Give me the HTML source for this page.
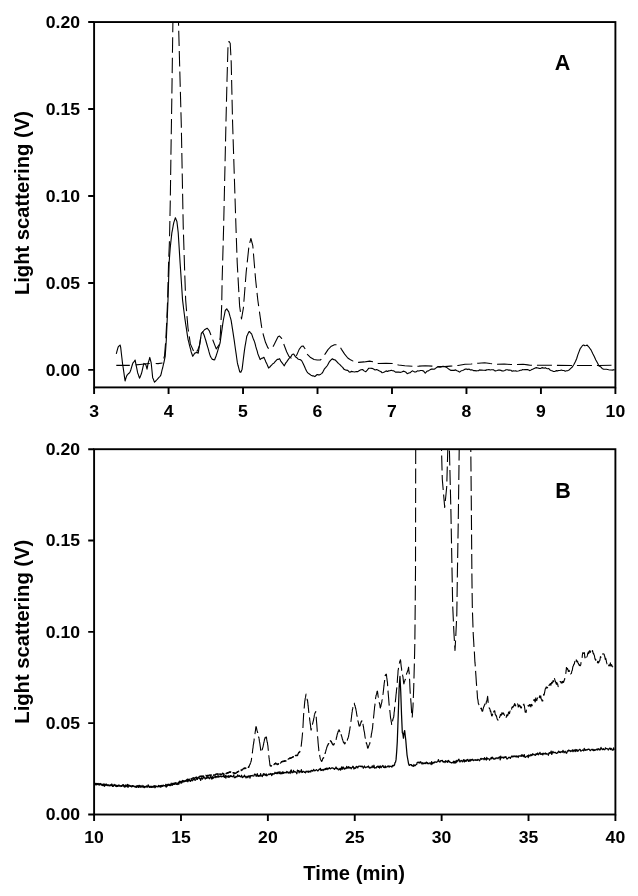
<!DOCTYPE html>
<html lang="en">
<head>
<meta charset="utf-8">
<title>Light scattering chromatograms</title>
<style>
html,body{margin:0;padding:0;background:#fff;}
body{width:638px;height:896px;overflow:hidden;}
svg{display:block;}
</style>
</head>
<body>
<svg width="638" height="896" viewBox="0 0 638 896">
<defs>
<clipPath id="ca"><rect x="94.1" y="22.05" width="521.3" height="365.34999999999997"/></clipPath>
<clipPath id="cb"><rect x="94.1" y="449.2" width="521.3" height="365.3"/></clipPath>
</defs>
<rect width="638" height="896" fill="#fff"/>
<g clip-path="url(#ca)" fill="none" stroke="#000" stroke-width="1.08" stroke-linejoin="round">
<path d="M116.30,353.86 116.93,351.47 117.55,349.08 118.18,347.03 118.81,346.12 119.44,345.72 120.06,345.01 120.69,347.37 121.32,353.02 121.94,358.22 122.57,363.85 123.20,367.90 123.82,372.15 124.45,376.55 125.08,380.98 125.71,378.75 126.33,376.91 126.96,375.24 127.59,374.77 128.21,373.96 128.84,373.24 129.47,372.90 130.09,371.81 130.78,370.02 131.47,367.54 132.16,365.28 132.85,363.07 133.61,362.12 134.36,361.33 135.11,359.97 135.74,363.30 136.36,366.46 136.99,369.47 137.62,372.69 138.24,374.33 138.87,376.21 139.50,378.16 140.13,376.93 140.75,375.35 141.38,373.83 142.01,371.30 142.63,368.57 143.26,365.82 143.89,363.41 144.51,363.78 145.14,363.97 145.77,364.55 146.39,366.72 147.02,369.09 147.65,365.88 148.28,362.53 149.03,360.37 149.78,357.43 150.47,360.08 151.16,362.76 151.91,369.98 152.66,377.67 153.29,378.91 153.92,380.69 154.55,382.20 155.17,381.48 155.80,381.00 156.43,380.09 157.05,379.66 157.68,378.98 158.31,378.22 158.93,377.41 159.56,376.85 160.19,376.15 160.82,375.16 161.44,372.75 162.07,369.94 162.70,367.75 163.32,364.91 163.95,362.27 164.57,359.37 165.20,356.29 165.75,348.14 166.30,340.08 167.20,319.76 168.00,299.98 168.60,280.83 169.20,261.81 169.70,254.78 170.20,248.13 170.77,242.68 171.33,237.61 171.90,232.55 172.53,229.45 173.17,225.72 173.80,222.57 174.60,220.12 175.40,217.79 176.15,219.61 176.90,221.48 177.55,226.84 178.20,232.56 178.83,242.56 179.47,252.86 180.10,262.93 180.71,271.85 181.32,281.19 181.93,290.54 182.54,299.87 183.13,304.69 183.71,309.45 184.30,313.99 184.89,318.56 185.52,322.84 186.14,326.89 186.77,331.07 187.40,335.34 188.03,339.28 188.65,341.70 189.28,344.26 189.91,346.80 190.53,348.99 191.16,351.92 191.94,354.06 192.73,356.30 193.41,355.32 194.09,354.18 194.76,353.24 195.39,352.83 196.02,352.84 196.65,352.29 197.43,352.68 198.21,353.15 199.00,348.42 199.78,343.81 200.56,338.57 201.35,333.45 201.97,332.74 202.60,331.93 203.23,333.37 203.86,334.51 204.48,336.24 205.11,338.30 205.74,340.26 206.36,342.51 206.99,344.75 207.62,346.95 208.32,349.18 209.03,351.90 209.73,354.32 210.44,356.41 211.07,357.46 211.69,358.31 212.32,359.36 212.91,359.56 213.50,359.60 214.08,359.96 214.67,359.71 215.26,357.99 215.85,356.81 216.43,354.95 217.02,353.11 217.65,351.12 218.28,348.67 218.90,346.72 219.53,344.75 220.16,342.50 220.78,338.03 221.41,333.42 222.04,329.09 222.66,324.60 223.29,320.51 223.92,317.26 224.55,314.25 225.17,310.89 225.96,309.66 226.74,308.78 227.42,309.91 228.10,310.89 228.78,311.91 229.37,314.07 229.95,316.19 230.54,318.08 231.13,320.38 231.76,324.38 232.38,328.29 233.01,332.37 233.64,336.57 234.26,340.63 234.89,345.24 235.52,349.76 236.14,353.89 236.77,358.53 237.40,362.94 237.99,365.27 238.57,367.33 239.16,369.61 239.75,371.96 240.30,372.11 240.85,372.27 241.47,370.75 242.10,369.17 242.69,364.43 243.28,359.55 243.86,354.94 244.45,350.31 245.04,346.42 245.63,343.18 246.21,339.78 246.80,336.19 247.39,335.00 247.98,333.69 248.57,332.36 249.15,331.49 249.74,331.85 250.33,332.67 250.92,333.35 251.50,333.65 252.13,335.37 252.76,337.37 253.39,338.98 254.01,340.43 254.64,342.13 255.27,344.34 255.89,346.91 256.52,349.06 257.15,350.92 257.77,353.45 258.36,355.10 258.95,356.50 259.54,357.92 260.13,359.59 260.87,358.85 261.61,358.27 262.35,358.23 263.13,357.68 263.92,357.22 264.51,358.80 265.09,359.92 265.68,361.51 266.27,362.86 267.05,364.36 267.84,366.21 268.62,368.07 269.40,367.23 270.19,366.67 270.97,365.68 271.76,365.00 272.80,363.74 273.85,363.25 274.89,361.81 276.07,360.55 277.24,359.31 278.42,359.35 279.59,358.71 280.77,361.11 281.94,362.70 283.12,364.29 284.29,365.85 285.47,363.39 286.65,361.85 288.21,359.64 289.78,357.50 290.96,356.73 292.13,354.53 293.70,354.05 294.87,355.87 296.05,357.27 297.23,358.05 298.40,359.27 299.58,359.46 300.75,359.85 301.93,361.13 303.10,363.54 304.28,365.97 305.45,368.74 306.63,371.20 307.81,372.89 309.37,373.96 310.94,375.18 312.25,375.86 313.55,375.91 314.86,376.60 316.03,375.48 317.21,374.46 318.39,374.88 319.56,374.87 320.74,374.17 321.91,373.33 323.09,371.60 324.26,369.16 325.83,367.38 327.40,365.49 328.97,362.46 330.53,360.40 332.41,358.75 333.82,359.67 335.24,359.98 336.80,361.53 338.37,363.42 339.94,364.62 341.50,366.36 342.68,367.36 343.86,369.13 345.03,369.64 346.21,370.15 347.77,370.42 349.34,372.00 350.00,372.26 351.57,371.35 353.13,371.70 354.70,372.02 356.27,371.51 357.84,371.61 359.40,370.43 360.97,369.74 362.54,369.46 364.11,370.87 365.67,371.76 367.24,370.07 368.81,368.20 370.38,368.26 371.94,368.35 373.51,369.02 375.08,369.97 376.65,369.50 378.21,370.27 379.52,371.05 380.83,371.51 382.13,372.72 383.44,372.49 384.74,371.85 386.05,370.88 387.36,371.44 388.66,370.87 389.97,370.69 391.27,370.19 392.58,370.72 393.89,370.86 395.45,372.14 397.02,372.18 398.59,372.04 400.16,372.34 401.72,372.04 403.29,371.17 404.60,371.44 405.90,372.17 407.21,373.77 408.78,372.95 410.34,372.61 411.52,371.45 412.70,370.87 414.26,371.90 415.83,372.03 417.40,370.89 418.97,370.97 420.53,370.51 422.10,370.52 423.67,371.14 425.24,373.24 426.80,371.28 428.37,370.90 429.94,369.86 431.50,369.12 432.81,369.12 434.12,369.29 435.42,368.42 436.99,367.26 438.56,366.64 440.00,367.14 441.57,366.62 443.13,366.28 444.70,366.56 446.27,367.10 447.84,368.39 449.40,369.55 450.97,370.40 452.54,370.32 454.11,370.38 455.67,369.90 456.98,370.80 458.29,371.20 459.59,372.16 461.16,370.83 462.73,370.45 464.03,369.85 465.34,369.07 466.65,368.94 467.82,369.60 469.00,368.96 470.17,369.87 471.35,369.68 472.52,370.02 473.70,370.63 474.87,370.47 476.05,370.85 477.23,370.76 478.40,370.78 479.58,369.87 480.75,370.08 481.93,370.15 483.10,370.28 484.28,370.24 485.45,370.38 486.63,369.89 487.81,369.77 488.98,369.52 490.16,369.99 491.33,369.70 492.51,369.80 493.68,369.92 494.86,370.87 496.03,370.83 497.21,370.55 498.39,370.08 499.56,369.96 500.87,370.38 502.17,370.91 503.48,370.97 504.79,370.58 506.09,369.72 507.40,369.74 508.57,370.14 509.75,370.11 510.92,370.20 512.10,371.31 513.28,370.77 514.45,370.94 515.63,370.70 516.80,371.20 517.98,371.02 519.15,370.77 520.33,370.19 521.50,370.22 522.68,369.61 523.86,369.75 525.03,369.46 526.21,369.65 527.47,369.66 528.74,370.00 530.00,370.65 531.57,369.64 533.13,369.05 534.70,368.21 536.27,367.65 537.84,367.95 539.40,368.40 540.58,368.44 541.76,367.84 542.93,367.66 544.11,368.20 545.28,367.67 546.46,368.56 547.63,368.80 548.81,368.51 549.98,369.89 551.16,370.53 552.34,370.86 553.51,371.55 554.82,371.47 556.12,370.64 557.43,370.87 558.74,370.49 560.04,370.45 561.35,370.05 562.65,370.44 563.96,370.56 565.27,371.24 566.57,370.82 567.88,370.62 569.18,369.95 570.75,368.34 572.32,367.03 573.89,364.52 575.45,361.52 576.63,358.72 577.81,354.92 578.98,351.85 580.16,348.72 581.33,347.20 582.51,345.44 583.68,344.96 584.86,345.75 586.03,345.55 587.21,345.14 588.39,346.51 589.56,347.96 591.13,350.11 592.70,353.53 594.26,356.57 595.83,359.92 597.40,362.85 598.97,366.06 600.53,366.71 602.10,368.42 603.67,369.21 605.24,369.27 606.41,369.28 607.59,369.49 608.76,369.82 609.94,370.02 611.11,369.98 612.29,370.13 613.46,369.68 614.64,369.87" stroke-width="1.12"/>
<path d="M116.30,365.40 130.00,365.40 140.00,364.50 149.00,363.50 158.00,363.60 162.50,363.00" stroke-dasharray="14 6" stroke-dashoffset="0.5"/>
<path d="M162.50,363.00 164.50,356.00 165.80,340.00 166.80,320.00 167.60,300.00 168.60,262.00 169.50,240.00 170.30,200.00 171.00,150.00 171.80,100.00 172.50,50.00 172.90,22.00 173.40,-30.00" stroke-dasharray="15.4 5" stroke-dashoffset="15.7"/>
<path d="M178.00,-30.00 178.50,22.00 179.50,60.00 181.30,125.00 183.20,225.00 184.70,272.00 185.67,300.00 186.93,315.67 188.03,328.21 188.50,331.35 190.38,343.89 193.51,350.94" stroke-dasharray="15.4 5" stroke-dashoffset="0.5"/>
<path d="M193.51,350.94 197.43,350.94 199.47,345.45 201.35,333.70 204.48,329.78 207.15,328.21 209.18,330.56 210.44,333.70 213.10,340.75 216.24,348.90 218.59,345.45 220.16,337.62 220.94,323.51 221.72,304.70 222.10,281.40 223.60,228.00 226.00,121.00 227.00,80.80 228.00,46.00 228.90,41.30" stroke-dasharray="14.9 4.95" stroke-dashoffset="16.9"/>
<path d="M228.90,41.30 230.20,43.20 231.20,62.00 232.60,123.00 236.00,228.00 237.20,262.60 239.60,305.90 241.50,319.00 243.40,307.80 246.20,272.00 249.00,245.70 250.90,238.50 252.80,245.70 255.60,279.50 257.80,300.00" stroke-dasharray="14.8 4.95" stroke-dashoffset="0.4"/>
<path d="M257.80,300.00 260.00,315.67 261.57,326.65 263.45,335.27 265.49,342.32 267.84,347.81 270.19,349.37 273.32,346.24 275.67,341.54 278.03,336.83 279.59,336.05 281.63,338.40 284.29,345.45 286.65,351.72 289.00,356.43 291.35,358.31 294.17,357.68 296.83,354.86 299.18,349.37 301.54,346.24 303.10,345.92 305.45,349.37 307.02,354.08 310.16,357.21 314.08,359.56 317.21,360.03 320.34,360.03 322.70,357.99 325.05,354.08 328.18,349.37 331.32,346.24 334.45,344.67 337.59,344.67 339.62,346.24 341.50,349.37 344.64,354.08 347.77,357.99 350.00,359.56" stroke-dasharray="16.5 5.5" stroke-dashoffset="10.3"/>
<path d="M350.00,359.56 353.13,361.13 358.62,362.38 364.11,361.91 369.59,361.13 373.51,361.91 378.21,363.48 386.05,363.17 392.32,363.48 398.59,365.05 404.86,365.83 412.70,366.30 418.97,366.14 425.24,365.83 432.29,366.14 437.77,366.61 440.00,366.61 444.70,366.61 450.19,366.14 458.03,365.52 465.08,364.26 471.35,363.95 478.40,363.17 484.67,362.70 490.16,363.48 497.21,364.26 504.26,363.95 510.53,364.58 516.80,364.58 523.07,364.26 527.77,364.89 530.00,365.20 540.19,365.20 551.16,365.20 557.43,365.36 571.54,365.52 583.29,365.52 598.97,365.52 611.50,365.20" stroke-dasharray="15 5" stroke-dashoffset="11.4"/>
</g>
<g clip-path="url(#cb)" fill="none" stroke="#000" stroke-width="1.1" stroke-linejoin="round">
<path d="M94.70,783.89 95.25,783.92 95.80,784.91 96.35,783.81 96.90,784.78 97.45,784.36 97.99,784.23 98.54,784.17 99.09,785.15 99.64,784.08 100.19,783.66 100.74,784.32 101.29,785.19 101.83,783.99 102.38,784.79 102.93,785.57 103.48,785.56 104.03,785.30 104.58,786.33 105.13,785.03 105.67,784.94 106.23,784.00 106.79,785.32 107.35,785.69 107.91,785.00 108.47,785.11 109.03,785.57 109.59,785.59 110.15,785.12 110.71,785.01 111.27,785.17 111.83,783.97 112.39,785.18 112.95,786.13 113.51,786.23 114.07,784.31 114.63,785.46 115.19,785.44 115.75,785.19 116.31,786.15 116.87,785.26 117.43,785.74 117.99,785.73 118.55,785.14 119.11,785.82 119.67,785.72 120.23,786.15 120.79,785.62 121.35,786.34 121.91,785.95 122.47,785.92 123.03,785.96 123.59,784.86 124.15,786.95 124.71,786.90 125.27,785.71 125.83,784.80 126.39,785.89 126.95,786.58 127.51,784.38 128.07,787.39 128.63,785.60 129.18,785.79 129.74,785.67 130.30,786.31 130.86,786.37 131.42,786.21 131.98,786.38 132.54,785.74 133.10,786.56 133.66,786.00 134.22,786.11 134.78,786.89 135.34,786.41 135.90,786.74 136.46,787.39 137.02,785.91 137.58,786.57 138.14,785.48 138.70,787.48 139.26,785.55 139.82,785.39 140.38,786.02 140.94,787.24 141.50,786.62 142.06,785.39 142.62,786.65 143.18,786.06 143.74,785.99 144.30,787.68 144.86,786.81 145.42,786.88 145.98,786.90 146.54,786.15 147.10,786.86 147.66,786.34 148.22,784.84 148.78,786.42 149.34,787.35 149.90,786.26 150.46,787.23 151.02,786.23 151.58,786.75 152.14,786.75 152.70,786.90 153.26,787.14 153.82,786.10 154.38,786.74 154.94,787.80 155.49,787.12 156.05,786.40 156.61,786.66 157.17,786.69 157.73,786.83 158.29,786.64 158.85,786.69 159.41,786.53 159.97,786.22 160.53,787.05 161.09,786.99 161.65,785.37 162.21,785.42 162.77,786.28 163.33,785.21 163.89,785.67 164.45,785.57 165.01,785.81 165.57,785.24 166.13,787.15 166.69,785.92 167.25,785.85 167.81,784.32 168.37,784.19 168.93,785.17 169.49,785.50 170.05,784.88 170.61,785.48 171.17,783.08 171.73,785.17 172.29,785.33 172.85,783.29 173.41,784.51 173.97,784.27 174.53,783.79 175.09,782.65 175.65,783.07 176.21,784.04 176.75,784.43 177.29,783.55 177.83,784.57 178.37,782.62 178.92,784.21 179.46,781.36 180.00,782.70 180.56,782.92 181.12,782.93 181.68,783.03 182.24,781.43 182.80,780.43 183.36,781.70 183.92,780.71 184.48,781.70 185.04,780.68 185.60,781.15 186.16,781.15 186.72,781.19 187.28,780.43 187.84,781.74 188.40,780.17 188.96,780.46 189.52,780.86 190.08,780.35 190.64,781.35 191.20,780.02 191.76,779.68 192.32,780.76 192.88,780.21 193.43,779.04 193.99,779.21 194.55,779.64 195.11,780.39 195.67,779.90 196.23,779.20 196.79,777.11 197.35,779.47 197.91,777.87 198.47,777.49 199.03,778.13 199.59,778.71 200.15,778.57 200.71,780.47 201.27,778.16 201.83,777.61 202.39,779.10 202.95,778.21 203.51,777.61 204.07,777.19 204.63,777.83 205.19,779.01 205.75,778.28 206.31,777.45 206.87,778.37 207.43,777.76 207.99,776.48 208.55,778.07 209.11,777.89 209.67,778.73 210.23,777.26 210.79,776.32 211.35,777.80 211.91,779.19 212.47,776.54 213.03,778.42 213.59,777.05 214.15,777.49 214.71,776.92 215.27,776.15 215.83,777.66 216.39,776.43 216.95,776.87 217.51,777.12 218.07,775.51 218.63,777.07 219.18,776.85 219.74,776.26 220.30,775.95 220.86,776.70 221.42,776.78 221.98,776.24 222.54,776.56 223.10,776.36 223.66,774.90 224.22,777.29 224.78,777.17 225.34,775.31 225.90,778.02 226.46,776.11 227.02,775.87 227.58,776.57 228.14,777.34 228.70,775.59 229.26,777.28 229.82,776.35 230.38,775.55 230.94,776.65 231.50,775.87 232.06,776.54 232.62,776.76 233.18,776.12 233.74,774.92 234.30,777.72 234.86,777.59 235.42,777.59 235.98,776.36 236.54,776.91 237.10,776.85 237.66,774.88 238.22,776.01 238.78,776.37 239.34,775.53 239.90,776.44 240.46,776.80 241.02,776.10 241.58,775.25 242.14,777.70 242.70,777.24 243.26,776.56 243.82,776.90 244.38,775.09 244.94,776.54 245.49,776.37 246.05,777.96 246.61,776.96 247.17,776.19 247.73,777.56 248.29,776.79 248.85,775.74 249.41,775.87 249.97,778.14 250.53,775.65 251.09,775.66 251.65,775.90 252.21,775.32 252.77,775.97 253.33,776.01 253.89,775.98 254.45,774.08 255.01,774.56 255.57,774.37 256.13,776.36 256.69,775.83 257.25,773.71 257.81,775.99 258.37,776.41 258.93,775.36 259.49,775.53 260.05,776.33 260.61,773.57 261.17,775.44 261.73,775.90 262.29,776.58 262.85,775.09 263.41,773.64 263.97,775.24 264.53,773.93 265.09,774.64 265.65,775.54 266.21,773.95 266.75,775.85 267.29,775.15 267.83,774.85 268.37,774.51 268.92,773.80 269.46,774.52 270.00,774.32 270.56,773.47 271.12,773.84 271.68,775.66 272.24,773.71 272.80,774.47 273.36,773.71 273.92,774.00 274.48,773.79 275.04,772.25 275.60,773.46 276.16,772.81 276.72,773.48 277.28,772.24 277.84,773.70 278.40,772.45 278.96,771.81 279.52,773.62 280.08,771.88 280.64,773.92 281.20,773.80 281.76,772.38 282.32,773.61 282.88,771.61 283.43,773.41 283.99,772.59 284.55,772.91 285.11,772.28 285.67,772.66 286.23,772.97 286.79,771.44 287.35,771.75 287.91,772.83 288.47,773.05 289.03,772.01 289.59,772.21 290.15,773.48 290.71,770.57 291.27,769.93 291.83,772.68 292.39,772.48 292.95,772.56 293.51,770.47 294.07,772.06 294.63,771.72 295.19,771.70 295.75,772.18 296.31,772.58 296.87,773.77 297.43,770.10 297.99,770.77 298.55,770.55 299.11,772.83 299.67,771.04 300.23,771.81 300.79,771.93 301.35,769.64 301.87,772.50 302.39,772.38 302.92,771.36 303.44,771.46 303.96,771.61 304.48,772.31 305.01,772.23 305.53,772.72 306.05,771.24 306.57,771.33 307.10,771.88 307.62,771.79 308.14,770.93 308.66,772.41 309.18,771.43 309.71,771.62 310.23,771.22 310.75,772.01 311.32,770.32 311.89,770.48 312.46,771.20 313.03,771.00 313.60,769.38 314.17,770.10 314.74,770.84 315.31,770.66 315.88,770.09 316.45,769.56 317.02,770.17 317.58,770.91 318.14,770.81 318.70,769.84 319.26,769.26 319.82,769.55 320.38,768.37 320.94,770.50 321.50,770.37 322.06,769.49 322.62,769.85 323.18,770.57 323.74,769.26 324.30,769.23 324.86,769.76 325.42,768.52 325.98,769.33 326.54,768.17 327.10,769.55 327.66,768.23 328.22,768.86 328.78,768.87 329.34,767.60 329.90,768.29 330.46,768.91 331.02,768.38 331.58,767.96 332.14,767.93 332.70,767.97 333.26,768.42 333.82,768.23 334.38,769.40 334.94,768.78 335.49,768.26 336.05,766.96 336.61,768.52 337.17,768.96 337.73,768.32 338.29,769.80 338.85,769.83 339.41,769.36 339.97,768.29 340.53,770.19 341.09,768.98 341.65,766.95 342.21,769.38 342.77,767.05 343.33,767.05 343.89,768.80 344.45,769.18 345.01,768.04 345.57,768.65 346.13,768.64 346.69,766.43 347.25,767.86 347.81,768.08 348.37,766.69 348.93,768.07 349.49,767.18 350.05,767.77 350.61,767.52 351.17,768.81 351.73,767.68 352.29,767.35 352.85,766.22 353.41,766.97 353.97,769.01 354.53,767.86 355.09,768.31 355.65,768.24 356.21,766.40 356.75,767.02 357.29,766.95 357.83,767.93 358.37,766.26 358.92,766.46 359.46,766.28 360.00,765.90 360.56,766.50 361.12,766.76 361.68,766.02 362.24,766.09 362.80,766.89 363.36,768.17 363.92,766.97 364.48,765.93 365.04,767.24 365.60,767.71 366.16,767.23 366.72,767.18 367.28,766.61 367.84,767.11 368.40,766.02 368.96,767.26 369.52,768.02 370.08,767.17 370.64,768.01 371.20,767.48 371.76,766.97 372.32,765.81 372.88,767.67 373.43,767.06 373.99,765.26 374.55,768.09 375.11,767.73 375.67,767.87 376.23,767.94 376.79,766.55 377.35,766.76 377.91,766.02 378.47,767.43 379.03,766.33 379.59,768.17 380.15,765.89 380.71,767.08 381.27,767.56 381.83,766.55 382.39,766.11 382.95,765.39 383.51,767.29 384.07,767.13 384.63,767.65 385.19,765.94 385.75,767.67 386.31,766.78 386.87,766.94 387.43,766.67 387.99,765.90 388.55,766.10 389.11,767.15 389.67,766.08 390.23,766.38 390.79,766.38 391.35,766.62 391.87,767.19 392.39,765.43 392.92,766.18 393.44,765.35 393.96,765.61 394.48,764.99 395.01,762.68 395.53,762.03 396.05,759.63 396.68,751.67 397.30,741.57 397.85,726.10 398.40,710.62 399.18,686.94 399.97,676.40 400.75,691.71 401.54,714.89 402.32,732.75 402.87,733.81 403.42,738.08 404.04,732.57 404.67,730.55 405.22,735.64 405.77,740.05 406.39,747.55 407.02,754.79 407.54,757.99 408.07,760.83 408.59,763.82 409.11,765.26 409.63,765.44 410.16,764.50 410.68,764.50 411.20,764.52 411.72,765.61 412.28,765.39 412.84,766.07 413.40,766.31 413.96,764.49 414.52,765.80 415.08,765.74 415.64,765.12 416.17,764.52 416.69,764.49 417.21,762.32 417.76,762.34 418.31,762.17 418.86,762.80 419.40,762.20 419.95,763.11 420.50,761.77 421.05,762.25 421.60,763.21 422.15,764.07 422.70,762.60 423.26,763.17 423.82,763.72 424.38,762.97 424.94,763.48 425.49,763.62 426.05,762.29 426.61,762.15 427.17,763.66 427.73,762.72 428.29,763.59 428.85,763.78 429.41,763.06 429.97,762.93 430.53,763.12 431.09,764.62 431.65,761.66 432.21,763.99 432.77,763.09 433.33,762.36 433.89,763.02 434.45,762.51 435.01,761.65 435.57,762.15 436.13,762.17 436.69,762.26 437.25,761.83 437.81,761.51 438.37,759.60 438.93,760.85 439.49,761.82 440.05,761.90 440.61,760.71 441.17,760.85 441.73,760.52 442.29,760.29 442.85,761.80 443.41,762.11 443.97,761.39 444.53,761.72 445.09,762.59 445.65,760.55 446.21,761.45 446.77,761.46 447.33,762.40 447.89,760.57 448.45,760.45 449.01,762.16 449.57,761.38 450.13,762.20 450.69,762.58 451.24,762.55 451.80,762.99 452.36,762.52 452.92,762.41 453.48,761.21 454.04,763.31 454.59,761.29 455.13,762.07 455.67,763.02 456.21,760.43 456.75,762.15 457.29,760.73 457.83,761.08 458.38,759.62 458.92,759.10 459.46,760.93 460.00,762.05 460.56,761.03 461.11,760.45 461.67,760.52 462.22,761.77 462.78,761.70 463.33,759.95 463.89,759.63 464.44,761.95 465.00,760.14 465.56,760.98 466.11,761.43 466.67,759.81 467.22,760.03 467.78,759.32 468.33,761.40 468.89,760.36 469.44,761.18 470.00,759.41 470.56,761.00 471.12,759.69 471.68,760.16 472.24,759.20 472.80,760.01 473.36,760.70 473.92,759.86 474.48,759.81 475.04,760.39 475.60,759.69 476.16,760.27 476.72,759.89 477.28,760.46 477.84,759.38 478.40,759.78 478.96,759.76 479.52,760.78 480.08,759.82 480.64,758.57 481.20,758.42 481.76,759.30 482.32,758.96 482.88,758.54 483.44,758.73 484.00,759.73 484.56,757.63 485.12,759.22 485.68,758.73 486.24,760.12 486.79,757.45 487.35,759.13 487.91,758.57 488.47,758.76 489.03,758.98 489.59,760.12 490.15,758.83 490.71,758.87 491.27,757.27 491.83,758.85 492.39,757.21 492.95,758.11 493.51,758.52 494.07,759.27 494.63,758.91 495.19,758.28 495.75,758.76 496.31,757.88 496.87,758.09 497.43,757.96 497.99,758.65 498.55,757.77 499.11,757.14 499.67,756.97 500.23,759.82 500.79,756.22 501.35,757.79 501.91,757.65 502.47,757.64 503.03,757.00 503.59,758.21 504.15,757.83 504.71,756.93 505.27,757.38 505.83,756.61 506.39,757.89 506.95,759.10 507.51,758.71 508.07,758.18 508.63,757.29 509.19,757.24 509.75,757.56 510.31,758.42 510.87,757.08 511.43,756.92 511.99,755.90 512.55,756.86 513.11,756.89 513.67,756.16 514.23,755.83 514.79,756.56 515.35,756.79 515.91,755.83 516.47,756.97 517.03,756.03 517.59,756.53 518.15,757.49 518.71,755.79 519.26,756.18 519.82,755.93 520.38,755.87 520.94,756.41 521.50,754.83 522.06,756.33 522.62,754.89 523.18,755.49 523.74,756.66 524.30,754.58 524.86,757.03 525.42,757.43 525.98,756.81 526.54,756.45 527.10,755.95 527.66,755.69 528.22,757.61 528.78,754.97 529.34,755.70 529.90,756.07 530.46,755.12 531.02,754.43 531.58,755.60 532.14,755.30 532.70,753.76 533.26,754.61 533.82,754.37 534.38,754.67 534.94,755.24 535.50,755.40 536.06,753.60 536.62,754.51 537.18,753.94 537.74,753.02 538.30,754.81 538.86,753.80 539.42,753.88 539.98,752.30 540.54,754.33 541.10,753.90 541.66,754.35 542.22,753.33 542.78,754.93 543.34,753.90 543.90,753.17 544.46,753.87 545.02,753.99 545.58,752.94 546.14,754.26 546.70,753.69 547.26,753.88 547.82,754.04 548.38,755.25 548.94,753.02 549.50,752.63 550.06,753.34 550.62,752.81 551.18,751.04 551.74,754.40 552.29,753.12 552.85,751.40 553.41,752.18 553.97,752.89 554.53,752.39 555.09,752.32 555.65,752.83 556.21,753.38 556.77,753.39 557.33,752.72 557.89,752.84 558.45,751.24 559.01,751.28 559.57,752.44 560.13,751.97 560.69,752.51 561.25,751.70 561.81,751.84 562.37,752.23 562.93,750.47 563.49,751.29 564.05,752.74 564.61,752.18 565.17,751.23 565.73,752.21 566.29,753.29 566.85,752.94 567.41,750.80 567.97,751.21 568.53,750.07 569.09,751.04 569.65,750.39 570.21,750.70 570.77,751.54 571.33,750.98 571.89,750.89 572.45,749.80 573.01,751.73 573.57,750.66 574.13,749.70 574.69,750.78 575.25,751.59 575.81,749.49 576.37,750.94 576.93,749.53 577.49,751.27 578.05,751.06 578.61,750.34 579.17,749.72 579.73,749.33 580.29,749.78 580.85,751.15 581.41,750.74 581.97,750.46 582.53,750.00 583.09,750.34 583.65,750.86 584.21,748.48 584.76,750.05 585.32,750.38 585.88,749.48 586.44,749.93 587.00,750.19 587.56,749.39 588.12,749.32 588.68,749.07 589.24,749.39 589.80,750.09 590.36,750.71 590.92,749.93 591.48,749.73 592.04,749.25 592.60,750.02 593.16,749.51 593.72,750.68 594.28,749.77 594.84,750.44 595.40,749.99 595.96,749.60 596.52,749.75 597.08,748.85 597.64,750.01 598.20,749.28 598.76,748.74 599.32,749.39 599.88,750.04 600.44,749.31 601.00,747.40 601.56,748.81 602.12,749.29 602.68,749.65 603.24,748.56 603.80,749.46 604.36,749.78 604.92,749.59 605.48,747.80 606.04,748.68 606.60,748.59 607.16,748.73 607.72,749.05 608.28,750.04 608.84,749.08 609.40,748.24 609.96,748.03 610.52,749.61 611.08,748.34 611.59,748.84 612.10,750.08 612.61,750.11 613.11,750.04 613.62,747.81 614.13,750.05" stroke-width="1.25"/>
<path d="M94.70,783.89 94.84,784.24 94.98,783.84 95.11,783.77 95.25,783.85 95.39,783.41 95.53,783.38 95.66,783.34 95.80,783.83 95.94,783.52 96.07,783.76 96.21,783.63 96.35,783.78 96.49,783.45 96.62,783.38 96.76,784.37 96.90,783.78 97.03,783.50 97.17,784.02 97.31,784.16 97.45,783.52 97.58,783.95 97.72,783.69 97.86,783.85 97.99,783.34 98.13,783.40 98.27,784.41 98.41,784.33 98.54,784.00 98.68,784.13 98.82,783.87 98.95,784.44 99.09,784.13 99.23,784.62 99.37,784.41 99.50,784.42 99.64,784.54 99.78,783.79 99.91,783.54 100.05,783.67 100.19,783.61 100.33,783.49 100.46,783.44 100.60,783.92 100.74,784.21 100.87,783.78 101.01,784.24 101.15,784.18 101.29,783.31 101.42,784.01 101.56,783.96 101.70,783.84 101.83,784.84 101.97,784.29 102.11,784.76 102.25,784.99 102.38,785.47 102.52,785.11 102.66,784.75 102.79,784.73 102.93,784.37 103.07,785.11 103.21,785.06 103.34,784.21 103.48,783.95 103.62,784.18 103.75,784.28 103.89,784.84 104.03,784.85 104.17,784.79 104.30,784.00 104.44,784.75 104.58,784.68 104.71,784.66 104.85,785.04 104.99,784.15 105.13,784.29 105.26,784.95 105.40,785.18 105.54,784.96 105.67,784.62 105.81,784.94 105.95,785.13 106.09,784.50 106.23,784.75 106.37,784.70 106.51,784.59 106.65,784.98 106.79,784.69 106.93,784.75 107.07,784.66 107.21,785.19 107.35,784.52 107.49,785.23 107.63,784.70 107.77,784.54 107.91,785.43 108.05,784.77 108.19,785.54 108.33,785.52 108.47,785.60 108.61,784.89 108.75,785.25 108.89,784.95 109.03,785.84 109.17,785.76 109.31,785.56 109.45,785.40 109.59,785.30 109.73,785.79 109.87,785.46 110.01,785.62 110.15,785.15 110.29,785.18 110.43,784.96 110.57,785.57 110.71,785.36 110.85,784.90 110.99,785.58 111.13,784.92 111.27,785.01 111.41,784.87 111.55,785.11 111.69,785.81 111.83,785.42 111.97,785.37 112.11,785.82 112.25,785.77 112.39,786.48 112.53,785.68 112.67,786.54 112.81,785.61 112.95,786.45 113.09,786.21 113.23,785.74 113.37,786.01 113.51,785.81 113.65,785.63 113.79,785.42 113.93,785.43 114.07,785.91 114.21,785.77 114.35,785.54 114.49,784.56 114.63,784.60 114.77,785.38 114.91,784.69 115.05,785.53 115.19,785.25 115.33,786.11 115.47,785.30 115.61,786.26 115.75,785.95 115.89,785.77 116.03,785.66 116.17,786.52 116.31,786.24 116.45,785.92 116.59,786.19 116.73,786.70 116.87,786.02 117.01,786.36 117.15,785.91 117.29,785.93 117.43,786.51 117.57,786.44 117.71,785.90 117.85,785.77 117.99,785.76 118.13,786.17 118.27,785.93 118.41,785.59 118.55,785.40 118.69,785.69 118.83,785.67 118.97,785.65 119.11,785.30 119.25,785.06 119.39,785.07 119.53,785.89 119.67,785.71 119.81,786.17 119.95,785.65 120.09,786.56 120.23,786.22 120.37,786.69 120.51,786.67 120.65,786.25 120.79,785.72 120.93,786.58 121.07,786.10 121.21,786.45 121.35,785.79 121.49,785.61 121.63,786.15 121.77,785.57 121.91,785.26 122.05,785.36 122.19,785.48 122.33,784.78 122.47,785.19 122.61,785.12 122.75,785.19 122.89,784.79 123.03,785.40 123.17,785.50 123.31,785.55 123.45,785.00 123.59,785.40 123.73,785.26 123.87,785.82 124.01,785.32 124.15,786.33 124.29,786.60 124.43,786.33 124.57,786.54 124.71,786.75 124.85,786.70 124.99,786.12 125.13,787.02 125.27,786.21 125.41,786.11 125.55,785.97 125.69,786.07 125.83,786.59 125.97,785.71 126.11,785.70 126.25,786.23 126.39,785.64 126.53,785.38 126.67,785.89 126.81,785.79 126.95,785.66 127.09,785.82 127.23,785.18 127.37,785.93 127.51,785.75 127.65,785.04 127.79,785.09 127.93,785.44 128.07,785.42 128.21,785.21 128.35,785.06 128.49,785.36 128.63,785.10 128.77,785.57 128.91,785.85 129.05,785.14 129.18,785.58 129.32,785.78 129.46,785.21 129.60,785.90 129.74,786.04 129.88,785.50 130.02,785.56 130.16,786.00 130.30,785.70 130.44,785.68 130.58,786.35 130.72,786.29 130.86,785.96 131.00,785.97 131.14,786.18 131.28,786.39 131.42,787.06 131.56,786.79 131.70,786.82 131.84,786.64 131.98,786.59 132.12,785.70 132.26,786.09 132.40,786.45 132.54,786.34 132.68,785.61 132.82,785.75 132.96,785.93 133.10,785.62 133.24,785.75 133.38,785.25 133.52,785.58 133.66,785.62 133.80,785.28 133.94,785.55 134.08,786.55 134.22,786.51 134.36,786.83 134.50,786.67 134.64,787.00 134.78,787.23 134.92,787.21 135.06,786.33 135.20,786.93 135.34,786.52 135.48,786.92 135.62,786.49 135.76,786.75 135.90,787.11 136.04,786.72 136.18,786.25 136.32,786.44 136.46,786.26 136.60,786.70 136.74,785.93 136.88,785.86 137.02,786.12 137.16,785.70 137.30,786.30 137.44,786.78 137.58,786.44 137.72,786.31 137.86,786.62 138.00,786.81 138.14,786.53 138.28,786.45 138.42,786.40 138.56,786.51 138.70,786.58 138.84,786.40 138.98,786.30 139.12,786.09 139.26,786.50 139.40,786.84 139.54,786.64 139.68,786.64 139.82,786.76 139.96,786.34 140.10,786.90 140.24,786.68 140.38,786.80 140.52,786.85 140.66,786.68 140.80,786.50 140.94,786.41 141.08,786.37 141.22,786.65 141.36,786.50 141.50,786.68 141.64,786.15 141.78,786.54 141.92,787.11 142.06,786.52 142.20,786.89 142.34,786.88 142.48,786.71 142.62,787.48 142.76,786.75 142.90,787.22 143.04,786.58 143.18,786.46 143.32,787.27 143.46,786.81 143.60,786.40 143.74,786.72 143.88,786.79 144.02,787.10 144.16,786.47 144.30,786.60 144.44,787.37 144.58,787.15 144.72,786.57 144.86,786.77 145.00,786.66 145.14,786.87 145.28,786.68 145.42,786.79 145.56,786.64 145.70,786.20 145.84,786.30 145.98,786.18 146.12,786.30 146.26,786.11 146.40,786.53 146.54,786.55 146.68,786.87 146.82,786.16 146.96,787.03 147.10,786.24 147.24,786.99 147.38,786.78 147.52,786.66 147.66,787.10 147.80,786.67 147.94,786.49 148.08,786.83 148.22,786.89 148.36,786.67 148.50,786.48 148.64,786.60 148.78,786.65 148.92,786.96 149.06,786.57 149.20,786.71 149.34,786.93 149.48,786.70 149.62,786.57 149.76,786.99 149.90,787.00 150.04,786.58 150.18,786.47 150.32,786.14 150.46,786.21 150.60,786.14 150.74,786.67 150.88,786.77 151.02,786.35 151.16,787.30 151.30,786.78 151.44,787.40 151.58,787.49 151.72,787.54 151.86,786.70 152.00,786.86 152.14,787.29 152.28,786.30 152.42,786.27 152.56,786.73 152.70,786.59 152.84,786.97 152.98,786.76 153.12,786.46 153.26,786.87 153.40,786.32 153.54,786.26 153.68,786.38 153.82,786.02 153.96,785.97 154.10,786.20 154.24,785.94 154.38,786.54 154.52,786.25 154.66,786.09 154.80,785.64 154.94,785.91 155.08,785.91 155.21,786.05 155.35,786.04 155.49,786.33 155.63,786.39 155.77,785.88 155.91,785.80 156.05,785.97 156.19,786.41 156.33,785.81 156.47,786.07 156.61,786.43 156.75,785.83 156.89,786.04 157.03,786.79 157.17,786.70 157.31,786.28 157.45,785.78 157.59,786.49 157.73,786.19 157.87,786.23 158.01,786.31 158.15,786.11 158.29,785.54 158.43,785.34 158.57,785.56 158.71,785.86 158.85,785.93 158.99,785.68 159.13,785.75 159.27,786.29 159.41,786.34 159.55,786.04 159.69,786.67 159.83,786.27 159.97,785.62 160.11,785.97 160.25,786.32 160.39,785.79 160.53,786.15 160.67,785.45 160.81,785.77 160.95,786.33 161.09,786.08 161.23,786.17 161.37,785.69 161.51,786.01 161.65,786.08 161.79,785.76 161.93,786.13 162.07,785.98 162.21,786.44 162.35,785.98 162.49,785.79 162.63,785.47 162.77,785.48 162.91,786.08 163.05,785.39 163.19,785.37 163.33,785.43 163.47,785.77 163.61,786.06 163.75,785.83 163.89,786.01 164.03,785.29 164.17,785.27 164.31,786.09 164.45,785.67 164.59,786.12 164.73,785.78 164.87,785.63 165.01,785.77 165.15,785.40 165.29,786.04 165.43,785.51 165.57,785.07 165.71,784.98 165.85,784.72 165.99,784.18 166.13,784.84 166.27,784.67 166.41,785.20 166.55,784.80 166.69,785.13 166.83,784.89 166.97,784.82 167.11,785.88 167.25,785.94 167.39,785.29 167.53,785.79 167.67,785.61 167.81,784.99 167.95,785.20 168.09,785.47 168.23,784.89 168.37,785.27 168.51,784.52 168.65,784.66 168.79,784.99 168.93,784.47 169.07,784.54 169.21,785.12 169.35,784.70 169.49,785.01 169.63,784.43 169.77,784.35 169.91,784.54 170.05,784.35 170.19,785.15 170.33,784.44 170.47,784.72 170.61,784.25 170.75,784.69 170.89,784.54 171.03,784.57 171.17,784.22 171.31,784.29 171.45,785.02 171.59,784.54 171.73,784.44 171.87,784.26 172.01,784.23 172.15,784.07 172.29,783.74 172.43,784.26 172.57,783.81 172.71,783.50 172.85,783.94 172.99,783.29 173.13,783.46 173.27,784.02 173.41,783.27 173.55,783.58 173.69,783.96 173.83,783.91 173.97,783.23 174.11,783.51 174.25,783.97 174.39,783.69 174.53,784.37 174.67,783.68 174.81,784.53 174.95,784.15 175.09,783.94 175.23,784.01 175.37,783.51 175.51,783.95 175.65,783.32 175.79,783.82 175.93,783.34 176.07,782.95 176.21,782.66 176.35,783.04 176.49,782.65 176.63,783.34 176.77,782.58 176.91,782.99 177.05,783.04 177.19,782.77 177.33,783.30 177.47,782.91 177.61,783.14 177.75,783.00 177.89,782.68 178.03,782.72 178.17,782.35 178.31,782.40 178.45,783.04 178.60,782.44 178.74,782.75 178.88,782.06 179.02,782.41 179.16,782.09 179.30,782.12 179.44,781.79 179.58,781.43 179.72,781.57 179.86,781.37 180.00,781.15 180.14,781.79 180.28,781.36 180.42,781.52 180.56,782.07 180.70,781.96 180.84,782.09 180.98,782.10 181.12,781.37 181.26,781.49 181.40,781.21 181.54,781.86 181.68,781.81 181.82,781.46 181.96,781.50 182.10,781.72 182.24,781.74 182.38,781.28 182.52,781.91 182.66,781.40 182.80,781.70 182.94,781.24 183.08,781.18 183.22,782.02 183.36,781.84 183.50,781.65 183.64,780.79 183.78,780.63 183.92,780.60 184.06,780.47 184.20,780.42 184.34,780.34 184.48,779.82 184.62,780.19 184.76,780.62 184.90,780.23 185.04,781.00 185.18,780.81 185.32,781.05 185.46,780.66 185.60,780.94 185.74,781.06 185.88,780.57 186.02,780.08 186.16,780.81 186.30,780.61 186.44,779.96 186.58,779.58 186.72,780.28 186.86,779.98 187.00,779.35 187.14,779.51 187.28,779.33 187.42,779.99 187.56,779.34 187.70,780.03 187.84,779.81 187.98,779.16 188.12,779.84 188.26,779.57 188.40,779.98 188.54,780.11 188.68,779.59 188.82,779.44 188.96,780.37 189.10,779.62 189.24,779.94 189.38,779.48 189.52,779.32 189.66,779.20 189.80,778.78 189.94,778.39 190.08,777.77 190.22,778.54 190.36,778.36 190.50,778.55 190.64,779.08 190.78,778.35 190.92,779.11 191.06,778.46 191.20,779.25 191.34,779.30 191.48,778.68 191.62,778.92 191.76,779.31 191.90,778.91 192.04,778.75 192.18,778.39 192.32,778.14 192.46,778.36 192.60,778.32 192.74,778.00 192.88,778.02 193.02,777.75 193.15,778.25 193.29,778.12 193.43,777.57 193.57,777.65 193.71,778.00 193.85,777.99 193.99,778.57 194.13,778.03 194.27,778.05 194.41,778.73 194.55,778.02 194.69,778.34 194.83,777.98 194.97,778.36 195.11,777.96 195.25,778.05 195.39,777.32 195.53,777.71 195.67,777.52 195.81,777.36 195.95,777.66 196.09,777.71 196.23,776.95 196.37,777.11 196.51,777.17 196.65,776.99 196.79,776.82 196.93,777.04 197.07,776.94 197.21,777.45 197.35,777.17 197.49,776.80 197.63,777.01 197.77,777.14 197.91,777.02 198.05,776.84 198.19,776.76 198.33,776.72 198.47,777.77 198.61,777.54 198.75,776.87 198.89,777.55 199.03,777.85 199.17,777.28 199.31,776.67 199.45,776.93 199.59,776.73 199.73,776.34 199.87,776.57 200.01,775.88 200.15,776.69 200.29,776.43 200.43,776.43 200.57,776.77 200.71,776.49 200.85,776.09 200.99,776.11 201.13,776.01 201.27,775.92 201.41,776.67 201.55,776.71 201.69,776.12 201.83,775.97 201.97,776.42 202.11,776.61 202.25,776.66 202.39,775.84 202.53,776.48 202.67,776.53 202.81,776.43 202.95,775.99 203.09,775.84 203.23,776.50 203.37,775.97 203.51,776.02 203.65,776.25 203.79,776.11 203.93,776.63 204.07,776.06 204.21,775.89 204.35,776.48 204.49,776.59 204.63,776.84 204.77,776.59 204.91,776.68 205.05,776.60 205.19,776.00 205.33,775.88 205.47,775.40 205.61,775.43 205.75,775.60 205.89,775.16 206.03,775.89 206.17,775.43 206.31,775.81 206.45,776.46 206.59,775.62 206.73,775.66 206.87,776.17 207.01,775.81 207.15,776.26 207.29,775.41 207.43,776.19 207.57,776.10 207.71,775.93 207.85,775.44 207.99,775.19 208.13,775.59 208.27,775.44 208.41,775.35 208.55,775.27 208.69,775.37 208.83,775.61 208.97,775.79 209.11,775.87 209.25,775.03 209.39,775.11 209.53,775.20 209.67,775.26 209.81,774.97 209.95,774.75 210.09,774.57 210.23,774.76 210.37,774.93 210.51,775.50 210.65,775.46 210.79,775.44 210.93,775.59 211.07,775.60 211.21,775.27 211.35,775.50 211.49,774.79 211.63,775.52 211.77,775.52 211.91,775.27 212.05,775.64 212.19,776.12 212.33,775.70 212.47,775.95 212.61,775.51 212.75,775.47 212.89,775.96 213.03,774.98 213.17,775.07 213.31,775.50 213.45,775.18 213.59,774.72 213.73,775.33 213.87,775.04 214.01,775.27 214.15,775.11 214.29,775.24 214.43,775.28 214.57,775.12 214.71,774.83 214.85,774.79 214.99,775.43 215.13,774.96 215.27,774.39 215.41,775.07 215.55,774.32 215.69,774.05 215.83,774.40 215.97,774.08 216.11,774.31 216.25,774.36 216.39,774.00 216.53,774.34 216.67,773.84 216.81,774.24 216.95,774.30 217.09,773.75 217.23,774.07 217.37,773.70 217.51,774.06 217.65,774.49 217.79,774.14 217.93,774.29 218.07,774.32 218.21,773.67 218.35,774.63 218.49,774.37 218.63,773.75 218.77,774.55 218.91,774.12 219.05,773.92 219.18,774.79 219.32,774.37 219.46,774.60 219.60,773.93 219.74,774.61 219.88,773.86 220.02,774.05 220.16,774.20 220.30,773.83 220.44,774.45 220.58,774.07 220.72,774.17 220.86,774.62 221.00,774.34 221.14,774.84 221.28,774.57 221.42,774.85 221.56,774.37 221.70,774.58 221.84,774.37 221.98,773.46 222.12,773.91 222.26,773.32 222.40,773.60 222.54,773.35 222.68,773.63 222.82,773.01 222.96,773.39 223.10,773.90 223.24,774.25 223.38,774.13 223.52,773.54 223.66,774.25 223.80,773.74 223.94,774.23 224.08,774.52 224.22,773.81 224.36,774.68 224.50,774.44 224.64,774.01 224.78,773.97 224.92,774.15 225.06,774.48 225.20,774.13 225.34,773.55 225.48,773.37 225.62,773.39 225.76,774.03 225.90,773.30 226.04,773.62 226.18,773.27 226.32,773.63 226.46,773.23 226.60,772.92 226.74,773.62 226.88,773.20 227.02,773.29 227.17,773.38 227.32,773.50 227.46,772.49 227.61,772.80 227.76,772.57 227.90,772.91 228.05,773.28 228.20,773.17 228.34,772.27 228.49,772.33 228.64,772.91 228.79,772.67 228.93,772.28 229.08,772.27 229.23,771.84 229.37,772.47 229.52,772.00 229.67,772.51 229.81,772.23 229.96,771.67 230.11,771.94 230.25,771.82 230.40,772.54 230.55,772.22 230.70,771.72 230.84,771.92 230.99,772.19 231.14,772.37 231.28,772.56 231.43,772.43 231.58,772.46 231.72,772.17 231.87,772.78 232.02,772.53 232.17,772.20 232.32,772.67 232.47,773.24 232.62,772.25 232.77,772.36 232.92,772.96 233.07,772.58 233.22,772.62 233.37,772.90 233.52,772.69 233.66,773.05 233.81,773.05 233.96,773.53 234.11,773.60 234.26,772.61 234.41,773.19 234.56,773.44 234.71,773.58 234.86,773.50 235.00,773.34 235.13,773.33 235.27,773.04 235.41,772.94 235.54,773.47 235.68,773.55 235.82,773.61 235.96,773.32 236.09,772.80 236.23,773.17 236.37,773.02 236.50,772.65 236.64,772.66 236.78,772.24 236.92,772.33 237.05,772.05 237.19,771.63 237.33,771.86 237.46,771.78 237.60,772.43 237.74,771.83 237.88,771.64 238.01,771.45 238.15,771.38 238.29,771.44 238.42,771.15 238.56,770.96 238.70,771.81 238.84,771.31 238.97,771.24 239.11,771.31 239.25,770.96 239.38,770.75 239.52,770.58 239.66,770.76 239.80,770.70 239.93,771.07 240.07,770.82 240.21,771.16 240.34,770.46 240.49,771.00 240.64,770.57 240.79,769.96 240.93,769.99 241.08,770.34 241.23,770.70 241.37,769.96 241.52,770.33 241.67,769.90 241.81,770.31 241.96,769.41 242.11,769.79 242.26,770.18 242.40,769.46 242.55,769.38 242.70,769.08 242.84,769.06 242.99,769.00 243.14,769.30 243.28,768.62 243.43,768.64 243.58,768.26 243.72,768.52 243.87,768.63 244.02,768.41 244.17,767.93 244.31,768.50 244.46,768.74 244.61,768.36 244.75,767.80 244.90,768.58 245.05,768.65 245.19,768.02 245.34,767.74 245.48,767.73 245.63,768.04 245.77,768.34 245.92,768.02 246.06,768.26 246.21,767.44 246.35,767.50 246.50,767.97 246.64,767.87 246.79,767.63 246.93,767.93 247.08,767.58 247.22,767.30 247.37,767.69 247.51,767.31 247.66,767.94 247.80,767.51 247.95,767.56 248.09,767.54 248.24,767.06 248.38,767.16 248.53,766.55 248.68,767.40 248.82,766.89 248.97,767.22 249.10,765.91 249.24,766.19 249.38,765.99 249.52,765.25 249.66,764.68 249.80,764.43 249.94,764.10 250.08,764.45 250.22,763.41 250.36,763.77 250.49,762.94 250.63,762.64 250.77,762.28 250.91,761.83 251.04,761.53 251.18,761.05 251.32,760.35 251.46,759.68 251.60,758.06 251.74,757.43 251.89,756.38 252.03,755.29 252.17,753.68 252.31,753.07 252.46,752.18 252.60,750.51 252.74,749.22 252.88,748.37 253.03,747.82 253.17,745.97 253.31,744.85 253.45,744.35 253.60,743.55 253.74,742.69 253.88,741.26 254.02,740.94 254.17,739.13 254.31,738.71 254.45,737.00 254.59,735.93 254.74,735.03 254.88,733.94 255.02,733.41 255.16,732.46 255.31,731.05 255.45,730.85 255.59,729.23 255.73,727.99 255.88,727.01 256.02,726.60 256.16,727.35 256.30,727.10 256.45,727.51 256.59,728.87 256.73,728.86 256.87,730.20 257.02,730.25 257.16,730.95 257.30,731.19 257.44,732.24 257.59,732.43 257.73,732.88 257.87,734.09 258.01,733.83 258.16,735.08 258.30,734.96 258.44,736.17 258.58,736.50 258.73,737.58 258.87,737.31 259.01,738.44 259.15,738.87 259.30,740.41 259.44,741.43 259.58,742.09 259.72,742.65 259.87,743.68 260.01,744.68 260.15,745.86 260.29,746.64 260.44,747.61 260.58,749.20 260.72,750.07 260.88,750.16 261.03,751.37 261.19,751.00 261.35,751.84 261.50,751.86 261.65,752.10 261.79,751.59 261.93,750.43 262.07,750.43 262.22,749.99 262.36,748.89 262.50,748.42 262.64,748.07 262.79,747.99 262.93,746.69 263.07,746.73 263.21,745.92 263.36,745.06 263.50,744.48 263.64,744.10 263.78,742.67 263.93,742.68 264.07,741.41 264.21,741.15 264.35,740.52 264.50,739.08 264.64,739.10 264.78,739.03 264.92,738.06 265.07,737.55 265.21,737.43 265.35,738.14 265.49,736.89 265.64,737.64 265.78,736.61 265.92,737.02 266.06,736.12 266.21,735.98 266.35,737.32 266.49,737.47 266.63,738.52 266.78,739.93 266.92,740.50 267.06,741.47 267.20,742.36 267.35,742.13 267.49,743.13 267.63,744.52 267.77,745.19 267.91,745.89 268.05,747.79 268.19,748.90 268.33,750.51 268.47,751.56 268.61,752.87 268.75,755.31 268.89,755.99 269.03,757.99 269.17,758.33 269.31,759.88 269.44,760.66 269.58,762.13 269.72,763.02 269.86,764.72 270.00,765.30 270.15,765.96 270.29,765.74 270.44,765.35 270.59,765.64 270.73,765.82 270.88,766.31 271.03,765.72 271.18,765.61 271.32,766.19 271.47,765.88 271.62,765.49 271.76,764.77 271.91,764.44 272.06,764.31 272.20,763.88 272.35,763.62 272.50,764.18 272.64,764.12 272.79,764.34 272.94,764.18 273.09,763.86 273.23,764.64 273.38,764.65 273.53,764.59 273.67,764.49 273.82,764.53 273.97,764.74 274.11,764.51 274.26,764.24 274.41,763.78 274.56,763.59 274.70,763.59 274.85,764.14 275.00,763.47 275.14,763.43 275.29,763.42 275.44,763.09 275.58,763.97 275.73,762.86 275.88,763.47 276.02,763.94 276.17,763.35 276.32,763.86 276.47,763.74 276.61,763.72 276.76,763.80 276.91,763.84 277.05,764.75 277.20,764.63 277.35,764.71 277.49,763.73 277.64,764.37 277.79,763.91 277.93,764.20 278.08,764.04 278.23,763.73 278.38,764.45 278.52,763.43 278.67,764.25 278.82,764.38 278.96,764.03 279.11,764.13 279.26,764.58 279.40,763.78 279.55,764.06 279.70,764.05 279.85,763.51 279.99,763.73 280.14,763.25 280.29,763.25 280.43,763.20 280.58,763.13 280.73,762.57 280.87,762.73 281.02,762.46 281.17,761.94 281.31,762.19 281.46,761.64 281.61,762.16 281.76,761.51 281.90,761.77 282.05,761.54 282.20,761.48 282.34,761.19 282.49,761.09 282.64,761.92 282.78,761.48 282.93,761.46 283.08,761.41 283.22,761.66 283.37,760.98 283.52,760.85 283.67,761.50 283.81,761.05 283.96,761.19 284.11,761.34 284.25,761.43 284.40,761.42 284.55,760.55 284.69,760.93 284.84,761.44 284.99,761.44 285.14,760.71 285.28,760.77 285.43,760.82 285.58,760.61 285.72,760.83 285.87,761.27 286.02,760.91 286.16,760.79 286.31,760.34 286.46,760.62 286.60,761.12 286.75,760.63 286.90,760.20 287.05,760.08 287.19,760.26 287.34,760.06 287.49,759.24 287.63,759.65 287.78,759.25 287.93,759.36 288.07,758.99 288.22,759.07 288.37,758.97 288.51,758.95 288.66,758.50 288.81,758.63 288.96,758.90 289.10,758.21 289.25,758.21 289.40,758.66 289.54,758.04 289.69,757.96 289.84,757.74 289.98,758.24 290.13,757.48 290.28,758.12 290.43,758.41 290.57,757.74 290.72,758.02 290.87,758.47 291.01,758.32 291.16,758.10 291.31,757.60 291.45,757.88 291.60,757.65 291.75,757.87 291.89,757.27 292.04,757.24 292.19,757.35 292.34,757.38 292.48,756.84 292.63,756.83 292.78,757.00 292.92,757.34 293.07,756.50 293.22,757.31 293.36,756.98 293.51,756.57 293.66,756.78 293.80,756.30 293.95,755.91 294.09,756.54 294.24,756.02 294.38,756.06 294.53,755.92 294.67,756.24 294.82,755.97 294.96,755.12 295.11,755.67 295.25,755.47 295.40,755.41 295.54,755.76 295.69,755.24 295.83,755.24 295.98,755.64 296.12,755.09 296.27,755.19 296.41,755.26 296.56,755.64 296.70,755.52 296.85,755.65 296.99,755.32 297.14,754.98 297.28,755.72 297.43,755.63 297.58,755.52 297.72,755.19 297.87,754.14 298.02,753.91 298.16,753.42 298.31,753.88 298.46,752.76 298.61,752.41 298.75,753.01 298.90,752.68 299.05,752.01 299.19,752.56 299.34,752.48 299.49,752.10 299.63,751.52 299.78,752.09 299.92,751.17 300.07,750.73 300.21,750.55 300.35,749.73 300.49,749.17 300.64,747.76 300.78,747.34 300.92,746.92 301.06,745.74 301.21,746.19 301.35,744.79 301.49,743.43 301.63,742.13 301.77,740.72 301.91,740.02 302.04,738.34 302.18,736.94 302.32,735.49 302.46,733.74 302.60,732.66 302.76,730.53 302.92,727.73 303.07,725.05 303.23,721.66 303.39,718.86 303.54,715.96 303.70,713.75 303.86,711.77 304.01,710.07 304.17,708.30 304.33,706.60 304.48,704.57 304.64,703.24 304.80,700.79 304.94,700.83 305.07,699.69 305.21,698.39 305.35,697.93 305.49,697.42 305.63,696.54 305.77,695.96 305.91,694.95 306.05,694.15 306.19,695.34 306.34,695.41 306.48,696.49 306.62,697.21 306.76,697.60 306.91,698.07 307.05,699.22 307.19,699.30 307.33,700.40 307.48,700.12 307.62,701.15 307.76,702.68 307.90,703.34 308.05,705.53 308.19,705.97 308.33,707.85 308.47,708.70 308.61,710.81 308.76,711.72 308.90,713.29 309.04,714.26 309.18,715.76 309.34,716.95 309.50,717.74 309.66,718.84 309.81,720.72 309.97,721.17 310.13,723.21 310.28,723.68 310.44,724.81 310.60,726.05 310.75,728.05 310.91,729.48 311.07,730.14 311.21,729.83 311.36,728.81 311.50,728.94 311.65,728.11 311.79,726.95 311.94,726.26 312.08,726.38 312.23,725.04 312.38,725.28 312.52,724.06 312.67,723.36 312.81,723.12 312.96,722.20 313.10,721.84 313.25,720.70 313.39,720.82 313.53,719.48 313.67,719.34 313.82,717.89 313.96,717.89 314.10,717.39 314.24,716.04 314.39,714.95 314.53,714.63 314.67,714.21 314.83,713.38 314.98,713.36 315.14,712.49 315.30,712.52 315.45,712.43 315.61,711.73 315.77,711.63 315.92,712.95 316.08,715.68 316.24,716.85 316.39,719.67 316.55,721.69 316.71,723.57 316.87,725.40 317.02,727.42 317.18,729.75 317.34,732.47 317.49,734.47 317.65,737.22 317.81,738.58 317.96,740.81 318.12,743.02 318.28,744.52 318.43,746.26 318.59,747.56 318.75,749.41 318.90,751.35 319.05,752.74 319.19,753.39 319.33,753.41 319.47,754.88 319.62,754.60 319.76,755.92 319.90,757.03 320.04,757.05 320.19,758.41 320.33,758.79 320.47,758.83 320.63,759.42 320.78,759.84 320.94,759.90 321.10,760.73 321.25,760.39 321.41,761.35 321.57,761.09 321.72,761.13 321.87,761.29 322.02,760.40 322.16,760.52 322.31,760.39 322.46,759.80 322.61,759.28 322.75,758.43 322.90,758.57 323.05,757.97 323.19,758.42 323.34,757.70 323.49,758.04 323.63,757.65 323.78,757.52 323.93,757.69 324.08,756.99 324.22,756.48 324.36,756.80 324.50,755.61 324.65,755.65 324.79,755.16 324.93,754.20 325.07,753.32 325.22,752.73 325.36,753.07 325.50,751.71 325.64,751.60 325.79,751.15 325.93,750.20 326.08,750.08 326.22,749.26 326.37,749.17 326.52,748.64 326.66,747.99 326.81,747.37 326.95,747.17 327.10,746.52 327.24,746.00 327.39,745.69 327.53,745.96 327.68,745.12 327.84,745.28 327.99,744.05 328.15,744.81 328.31,744.04 328.46,744.10 328.62,743.59 328.78,743.40 328.93,742.57 329.09,742.82 329.25,741.84 329.40,741.64 329.56,741.05 329.72,741.36 329.87,741.41 330.03,741.07 330.19,741.64 330.34,740.67 330.50,741.12 330.66,740.89 330.82,741.45 330.97,741.81 331.13,741.88 331.29,741.31 331.44,741.67 331.59,742.36 331.73,743.09 331.88,742.33 332.02,743.27 332.17,743.65 332.32,744.09 332.46,743.86 332.61,744.52 332.75,744.26 332.90,744.91 333.04,744.01 333.19,745.20 333.33,744.73 333.48,744.86 333.63,744.31 333.77,744.30 333.92,744.67 334.07,744.42 334.21,743.63 334.36,743.66 334.51,743.24 334.66,743.12 334.80,742.77 334.95,742.53 335.10,742.91 335.24,742.57 335.39,741.96 335.54,741.23 335.68,740.89 335.83,740.84 335.99,740.31 336.14,739.44 336.30,738.62 336.46,737.42 336.61,737.23 336.77,736.80 336.93,736.12 337.08,734.68 337.24,734.79 337.40,733.73 337.55,732.89 337.71,733.21 337.87,732.46 338.03,732.13 338.18,730.99 338.34,731.41 338.50,731.12 338.65,730.67 338.81,730.07 338.97,729.76 339.12,730.06 339.28,730.12 339.44,730.26 339.59,731.05 339.75,731.33 339.91,731.75 340.06,731.39 340.22,732.51 340.38,732.31 340.53,733.13 340.69,732.68 340.85,734.27 341.00,734.61 341.16,734.51 341.32,735.78 341.47,735.59 341.63,736.04 341.79,736.85 341.94,737.07 342.10,737.88 342.26,738.89 342.41,739.11 342.58,739.63 342.75,739.72 342.92,740.69 343.09,741.19 343.26,741.54 343.43,742.35 343.60,742.50 343.77,742.27 343.94,742.16 344.11,743.16 344.28,743.68 344.45,743.36 344.62,743.61 344.79,743.86 344.96,743.74 345.12,742.68 345.29,743.23 345.46,742.57 345.63,742.63 345.79,743.39 345.96,742.76 346.13,742.86 346.30,742.54 346.47,742.26 346.63,741.97 346.80,742.02 346.99,741.99 347.18,741.05 347.37,739.97 347.55,739.05 347.74,738.63 347.93,738.56 348.12,737.60 348.31,737.26 348.50,736.82 348.68,735.31 348.86,735.02 349.03,733.15 349.21,733.15 349.38,731.29 349.55,730.37 349.73,730.24 349.90,728.44 350.08,727.23 350.25,727.08 350.42,725.33 350.60,724.32 350.77,722.27 350.95,721.03 351.12,720.25 351.30,718.27 351.47,717.52 351.64,715.08 351.82,714.54 352.00,712.52 352.18,711.88 352.36,710.05 352.53,709.15 352.71,709.05 352.89,707.26 353.07,706.61 353.25,705.45 353.43,705.18 353.61,704.43 353.79,704.63 353.97,704.64 354.15,703.77 354.33,703.17 354.50,704.56 354.67,705.15 354.85,705.48 355.02,705.31 355.20,706.70 355.37,707.09 355.55,708.43 355.72,708.25 355.89,709.30 356.09,710.43 356.29,711.23 356.48,712.60 356.68,713.97 356.87,715.45 357.07,716.05 357.26,717.02 357.46,719.03 357.65,718.63 357.84,720.59 358.03,721.25 358.21,721.95 358.40,722.67 358.59,723.84 358.78,724.79 358.97,725.31 359.15,726.08 359.34,725.82 359.56,725.80 359.78,725.10 360.00,725.83 360.20,725.21 360.39,723.62 360.59,723.72 360.78,723.18 360.98,721.89 361.18,721.85 361.37,722.03 361.57,721.55 361.76,720.70 361.96,721.06 362.16,720.06 362.35,720.09 362.55,721.11 362.74,723.11 362.94,723.83 363.13,725.25 363.33,726.25 363.53,727.02 363.72,729.06 363.92,729.89 364.12,731.10 364.33,731.73 364.53,732.80 364.73,734.65 364.94,736.26 365.14,737.44 365.34,738.00 365.55,738.92 365.75,740.70 365.96,742.46 366.14,742.01 366.33,743.47 366.52,743.22 366.71,744.04 366.90,744.26 367.08,745.26 367.27,746.03 367.46,747.55 367.65,748.18 367.84,747.66 368.03,747.44 368.23,747.98 368.42,746.45 368.62,746.22 368.82,745.99 369.01,745.08 369.21,744.66 369.40,744.21 369.60,743.55 369.80,743.78 369.99,742.07 370.19,741.33 370.38,741.26 370.58,739.42 370.78,738.87 370.97,737.42 371.17,736.49 371.36,734.64 371.56,733.20 371.76,732.94 371.95,731.31 372.15,730.26 372.34,729.25 372.54,728.19 372.77,725.14 373.01,722.97 373.24,721.53 373.48,718.62 373.71,715.86 373.95,714.01 374.18,711.05 374.42,709.47 374.63,706.46 374.84,705.84 375.05,703.57 375.26,701.37 375.46,700.44 375.67,697.51 375.90,696.45 376.12,695.14 376.35,694.88 376.57,694.17 376.79,693.02 377.02,691.57 377.24,691.17 377.47,691.31 377.69,692.88 377.91,694.67 378.14,696.44 378.36,697.15 378.58,698.50 378.81,699.88 379.03,700.51 379.26,702.64 379.48,703.56 379.70,704.16 379.93,705.48 380.15,707.40 380.38,707.90 380.61,706.57 380.85,706.64 381.08,705.02 381.32,703.95 381.55,703.13 381.79,702.44 382.02,700.11 382.26,699.38 382.48,697.15 382.70,695.95 382.93,694.32 383.15,693.13 383.38,691.05 383.60,689.13 383.82,687.06 384.03,685.44 384.24,683.04 384.45,682.10 384.66,680.10 384.87,678.28 385.08,675.23 385.33,675.64 385.58,675.31 385.83,674.42 386.08,674.63 386.33,674.17 386.55,675.70 386.77,677.63 386.99,679.14 387.21,681.33 387.43,681.85 387.68,686.29 387.93,689.74 388.18,693.04 388.43,695.91 388.68,699.01 388.92,702.26 389.15,704.96 389.39,706.34 389.62,708.56 389.86,710.90 390.09,713.00 390.32,715.56 390.54,717.62 390.77,718.87 390.99,719.64 391.21,721.78 391.44,722.23 391.66,725.11 391.92,723.31 392.17,721.84 392.43,722.04 392.68,720.27 392.93,719.50 393.19,718.11 393.44,717.79 393.70,716.98 393.92,715.42 394.15,712.04 394.37,711.43 394.59,708.14 394.82,706.33 395.04,705.04 395.27,702.51 395.53,699.90 395.79,697.73 396.05,694.51 396.31,692.95 396.57,689.31 396.83,687.85 397.08,684.61 397.34,680.92 397.59,676.80 397.84,674.97 398.09,670.41 398.36,669.28 398.64,667.14 398.91,664.49 399.18,663.53 399.44,662.97 399.69,661.98 399.94,660.91 400.19,660.38 400.44,659.78 400.70,661.09 400.96,664.26 401.22,666.48 401.48,668.11 401.75,670.38 402.01,671.19 402.24,673.90 402.48,673.68 402.71,675.93 402.95,676.77 403.18,679.00 403.42,681.05 403.65,682.72 403.89,683.87 404.12,682.91 404.36,681.88 404.59,681.54 404.83,680.57 405.06,679.54 405.30,679.71 405.53,678.44 405.77,677.43 406.03,675.95 406.29,675.89 406.55,673.90 406.81,673.00 407.07,672.54 407.34,671.79 407.59,671.38 407.84,670.02 408.09,669.47 408.34,668.48 408.59,667.17 408.85,670.26 409.11,672.09 409.37,675.46 409.63,680.26 409.90,687.10 410.16,692.00 410.41,695.27 410.66,698.01 410.91,701.64 411.16,704.72 411.41,709.09 411.67,713.02 411.93,714.90 412.19,717.61 412.46,713.69 412.72,709.87 412.98,706.78 413.24,700.26 413.50,693.24 413.76,686.21 414.08,674.36 414.39,662.60 414.62,653.06 414.86,641.68 415.20,606.83 415.50,570.68 415.70,449.83 415.80,400.17" stroke-dasharray="15 4.5"/>
<path d="M441.30,400.00 441.50,449.40 442.30,479.20 444.70,507.40 446.70,487.00 447.80,449.40 448.00,400.00" stroke-dasharray="15 4.5" stroke-dashoffset="3"/>
<path d="M449.20,400.00 449.40,449.40 450.90,510.50 452.20,580.00 452.70,605.70 453.90,632.50 455.00,650.40 455.70,637.90 456.80,614.60 457.40,573.00 458.30,518.40 459.20,449.40 459.40,400.00" stroke-dasharray="15 4.5" stroke-dashoffset="8"/>
<path d="M470.60,400.00 470.80,450.49 471.05,475.36 471.30,502.56 471.60,538.93 471.90,574.85 472.10,591.11 472.30,605.56 472.55,614.11 472.80,621.24 473.05,629.35 473.30,635.21 473.53,639.05 473.77,642.80 474.00,647.59 474.24,649.48 474.47,653.65 474.70,658.21 474.94,662.42 475.17,664.56 475.43,668.60 475.70,672.62 475.96,676.17 476.22,680.20 476.48,684.13 476.74,687.11 477.00,690.70 477.26,693.84 477.52,698.64 477.78,699.13 478.03,700.61 478.29,703.29 478.54,703.62 478.80,704.45 479.05,705.49 479.31,705.61 479.56,706.02 479.82,705.54 480.07,706.21 480.33,707.31 480.58,708.31 480.84,708.78 481.10,708.23 481.36,708.02 481.63,709.38 481.89,710.91 482.15,711.07 482.41,710.28 482.67,711.13 482.93,710.01 483.19,708.67 483.45,707.83 483.72,706.82 483.98,706.65 484.24,705.53 484.50,705.37 484.76,704.14 485.02,705.56 485.28,704.41 485.54,704.80 485.81,702.86 486.07,703.81 486.33,701.68 486.59,701.76 486.85,700.62 487.11,699.44 487.37,697.80 487.63,696.37 487.91,698.99 488.18,702.58 488.46,703.53 488.73,705.76 489.01,706.96 489.28,708.43 489.54,708.25 489.80,708.87 490.06,709.47 490.33,711.45 490.59,710.75 490.85,711.62 491.11,713.21 491.37,714.32 491.63,715.78 491.89,715.09 492.14,716.01 492.40,714.11 492.65,714.63 492.91,712.57 493.16,712.24 493.41,711.12 493.67,712.21 493.92,711.18 494.18,711.29 494.43,711.49 494.69,710.66 494.94,712.10 495.20,714.27 495.45,714.55 495.71,715.00 495.96,715.96 496.22,715.27 496.47,716.19 496.73,717.22 496.98,718.49 497.24,718.88 497.49,719.80 497.75,719.91 497.98,720.10 498.22,718.10 498.45,718.67 498.69,719.43 498.92,718.79 499.16,718.87 499.39,718.55 499.63,716.91 499.86,716.48 500.10,716.44 500.33,714.83 500.57,714.38 500.80,715.24 501.04,714.90 501.27,715.21 501.51,714.84 501.74,713.52 501.98,712.68 502.21,713.15 502.45,713.28 502.68,714.06 502.92,713.54 503.15,712.84 503.39,713.28 503.62,714.17 503.86,713.79 504.09,714.30 504.35,714.98 504.62,715.30 504.88,714.46 505.14,716.44 505.40,716.17 505.66,716.14 505.92,716.11 506.18,717.45 506.44,716.37 506.68,715.31 506.92,714.81 507.15,715.18 507.39,714.86 507.62,715.87 507.86,715.20 508.09,714.72 508.33,713.32 508.56,711.95 508.80,712.99 509.03,712.66 509.27,712.44 509.50,713.66 509.74,712.41 509.97,711.53 510.21,711.04 510.44,712.00 510.68,711.57 510.91,710.27 511.15,710.65 511.38,710.72 511.62,709.28 511.85,707.67 512.09,707.07 512.32,707.31 512.56,707.44 512.79,706.58 513.03,707.23 513.26,706.95 513.50,706.04 513.73,706.06 513.97,704.99 514.20,705.76 514.44,704.02 514.67,703.65 514.91,703.87 515.14,705.36 515.38,704.82 515.61,706.00 515.85,705.25 516.09,705.56 516.32,704.59 516.56,704.25 516.79,704.82 517.03,704.09 517.26,704.79 517.50,703.87 517.73,704.43 517.97,704.29 518.20,707.03 518.44,706.80 518.67,706.39 518.91,705.60 519.14,705.53 519.38,705.03 519.61,706.25 519.85,705.90 520.08,705.60 520.32,707.14 520.55,706.43 520.81,707.99 521.06,707.15 521.32,706.86 521.57,707.84 521.83,706.36 522.08,706.17 522.34,706.09 522.59,706.72 522.85,705.59 523.10,705.53 523.35,704.45 523.61,704.95 523.87,704.03 524.13,705.68 524.39,705.61 524.65,707.87 524.92,709.96 525.18,712.13 525.44,711.47 525.70,712.03 525.96,712.19 526.20,712.33 526.43,709.51 526.67,708.12 526.90,708.24 527.14,707.77 527.37,707.75 527.61,705.91 527.84,705.88 528.08,705.42 528.31,706.19 528.55,705.96 528.78,705.90 529.02,706.05 529.25,704.94 529.49,704.59 529.72,705.26 529.96,704.51 530.19,706.22 530.43,705.51 530.66,705.11 530.90,706.92 531.13,705.01 531.37,704.41 531.60,704.45 531.84,704.46 532.07,705.69 532.31,705.53 532.54,703.84 532.78,703.16 533.01,702.85 533.25,702.32 533.48,701.60 533.72,700.89 533.95,699.69 534.19,699.44 534.43,699.70 534.66,700.19 534.90,701.20 535.13,702.00 535.37,701.22 535.60,698.95 535.84,697.85 536.07,700.02 536.31,700.12 536.54,700.12 536.78,700.55 537.01,699.27 537.25,698.75 537.48,698.16 537.72,697.62 537.95,697.08 538.19,696.62 538.42,698.45 538.66,698.87 538.89,697.84 539.13,697.44 539.36,696.91 539.60,695.87 539.83,697.10 540.07,697.85 540.30,697.55 540.54,697.08 540.77,695.88 541.01,698.30 541.24,699.01 541.48,699.03 541.71,699.67 541.95,700.91 542.18,699.85 542.42,700.14 542.65,701.06 542.89,700.87 543.12,697.80 543.36,696.83 543.60,694.28 543.83,694.92 544.07,695.20 544.30,694.15 544.54,692.97 544.77,691.60 545.01,690.34 545.24,689.08 545.48,688.41 545.71,688.05 545.97,687.78 546.22,686.86 546.48,687.47 546.73,688.17 546.98,687.56 547.24,687.21 547.49,687.71 547.75,687.10 548.00,686.50 548.26,687.02 548.51,686.16 548.77,687.32 549.00,685.43 549.24,684.85 549.47,684.95 549.71,684.34 549.94,684.19 550.18,683.58 550.41,683.96 550.65,684.47 550.88,685.33 551.12,683.38 551.35,683.85 551.59,682.46 551.82,682.34 552.06,683.32 552.29,682.89 552.53,682.58 552.77,681.87 553.00,680.60 553.24,680.64 553.47,681.05 553.71,682.72 553.94,681.96 554.18,680.03 554.41,678.56 554.65,679.06 554.88,679.98 555.12,681.53 555.37,680.96 555.63,682.04 555.88,682.78 556.14,683.63 556.39,684.17 556.64,682.47 556.90,682.70 557.15,684.24 557.41,684.37 557.66,683.96 557.92,685.36 558.17,686.76 558.43,685.53 558.68,684.85 558.94,684.10 559.19,683.60 559.45,683.12 559.70,683.06 559.96,682.41 560.21,681.48 560.47,681.65 560.72,682.18 560.97,681.80 561.23,683.16 561.49,682.93 561.75,682.12 562.01,682.28 562.27,681.62 562.54,682.84 562.80,682.06 563.06,681.20 563.32,681.45 563.58,682.48 563.82,681.30 564.05,681.27 564.29,679.76 564.52,679.76 564.76,678.75 564.99,676.45 565.23,676.16 565.46,674.27 565.70,674.02 565.93,672.32 566.17,670.43 566.40,667.56 566.64,667.63 566.87,668.97 567.11,669.12 567.34,668.50 567.58,668.75 567.81,669.61 568.05,669.57 568.28,671.33 568.52,671.44 568.75,670.93 568.99,670.69 569.22,670.34 569.46,671.43 569.69,670.93 569.93,672.93 570.19,672.43 570.45,672.97 570.71,674.00 570.97,673.70 571.24,673.16 571.50,673.28 571.76,671.25 572.02,670.65 572.28,670.50 572.54,668.57 572.79,667.18 573.04,666.10 573.30,666.15 573.55,665.32 573.81,664.19 574.06,664.38 574.32,663.84 574.57,662.72 574.83,661.57 575.08,661.14 575.34,658.78 575.57,660.03 575.81,659.35 576.04,659.54 576.28,660.59 576.51,660.15 576.75,661.76 576.98,661.90 577.22,661.38 577.45,661.14 577.69,661.48 577.92,662.66 578.16,663.17 578.42,663.26 578.68,664.28 578.94,664.32 579.20,665.36 579.47,664.76 579.73,665.29 579.99,665.75 580.25,665.80 580.51,665.27 580.77,664.68 581.03,662.53 581.29,661.37 581.56,660.23 581.82,659.24 582.08,657.92 582.34,655.33 582.60,653.58 582.86,652.57 583.10,653.23 583.33,653.31 583.57,653.04 583.80,653.39 584.04,653.43 584.27,652.51 584.51,653.48 584.74,656.59 584.98,657.88 585.21,657.05 585.45,658.24 585.68,659.10 585.94,657.72 586.19,656.51 586.45,656.93 586.70,657.05 586.96,656.52 587.21,655.97 587.47,655.15 587.72,653.23 587.98,653.42 588.23,651.98 588.48,652.60 588.74,653.66 588.99,651.97 589.25,651.37 589.50,650.76 589.76,651.06 590.01,651.86 590.27,652.55 590.52,650.58 590.78,649.82 591.03,650.11 591.29,649.49 591.54,649.32 591.80,648.93 592.03,649.67 592.27,651.50 592.50,650.48 592.74,651.30 592.97,652.72 593.21,653.55 593.44,653.87 593.68,653.39 593.91,654.56 594.15,654.99 594.38,655.49 594.62,656.87 594.85,658.28 595.09,659.27 595.32,659.14 595.56,659.16 595.79,660.43 596.03,658.80 596.26,660.74 596.50,660.55 596.73,661.05 596.97,661.16 597.20,661.64 597.44,662.68 597.67,661.36 597.91,662.83 598.14,662.06 598.40,661.81 598.65,662.86 598.91,662.16 599.16,661.18 599.42,660.90 599.67,660.93 599.93,660.01 600.18,658.49 600.44,656.48 600.69,657.57 600.95,657.02 601.20,657.28 601.48,657.23 601.75,655.96 602.02,656.75 602.30,656.00 602.57,654.31 602.85,653.80 603.12,653.89 603.40,653.92 603.67,654.03 603.94,653.94 604.22,654.54 604.49,656.16 604.75,656.33 605.00,657.81 605.26,659.34 605.51,659.13 605.77,658.25 606.02,659.50 606.28,660.63 606.53,662.31 606.79,663.18 607.04,663.84 607.30,664.56 607.55,664.17 607.79,665.29 608.02,665.20 608.26,666.42 608.49,665.11 608.73,665.80 608.96,665.39 609.20,666.01 609.43,664.90 609.67,665.54 609.90,665.08 610.14,664.68 610.37,662.88 610.61,665.11 610.84,665.54 611.08,666.21 611.33,665.92 611.59,664.58 611.84,665.82 612.10,665.83 612.35,666.25 612.61,666.64 612.86,667.30 613.11,667.17 613.37,667.19 613.62,666.40 613.88,667.02 614.13,667.24" stroke-dasharray="15 4.5" stroke-dashoffset="2"/>
</g>
<g fill="none" stroke="#000" stroke-width="1.9">
<rect x="94.1" y="22.05" width="521.3" height="365.34999999999997"/>
<rect x="94.1" y="449.2" width="521.3" height="365.3"/>
<path d="M94.10,387.4v6.5M168.57,387.4v6.5M243.04,387.4v6.5M317.51,387.4v6.5M391.99,387.4v6.5M466.46,387.4v6.5M540.93,387.4v6.5M615.40,387.4v6.5M94.10,814.5v6.5M180.98,814.5v6.5M267.87,814.5v6.5M354.75,814.5v6.5M441.63,814.5v6.5M528.52,814.5v6.5M615.40,814.5v6.5M94.1,369.90h-5.9M94.1,282.94h-5.9M94.1,195.97h-5.9M94.1,109.01h-5.9M94.1,22.05h-5.9M94.1,814.50h-5.9M94.1,723.17h-5.9M94.1,631.85h-5.9M94.1,540.52h-5.9M94.1,449.20h-5.9"/>
</g>
<g font-family="'Liberation Sans', Arial, Helvetica, sans-serif" font-weight="bold" fill="#000">
<g font-size="16px" text-anchor="middle">
<text transform="translate(94.1,417.2) scale(1.1,1)">3</text>
<text transform="translate(168.6,417.2) scale(1.1,1)">4</text>
<text transform="translate(243.0,417.2) scale(1.1,1)">5</text>
<text transform="translate(317.5,417.2) scale(1.1,1)">6</text>
<text transform="translate(392.0,417.2) scale(1.1,1)">7</text>
<text transform="translate(466.5,417.2) scale(1.1,1)">8</text>
<text transform="translate(540.9,417.2) scale(1.1,1)">9</text>
<text transform="translate(615.4,417.2) scale(1.1,1)">10</text>
<text transform="translate(94.1,843.4) scale(1.1,1)">10</text>
<text transform="translate(181.0,843.4) scale(1.1,1)">15</text>
<text transform="translate(267.9,843.4) scale(1.1,1)">20</text>
<text transform="translate(354.8,843.4) scale(1.1,1)">25</text>
<text transform="translate(441.6,843.4) scale(1.1,1)">30</text>
<text transform="translate(528.5,843.4) scale(1.1,1)">35</text>
<text transform="translate(615.4,843.4) scale(1.1,1)">40</text>
</g>
<g font-size="16px" text-anchor="end">
<text transform="translate(80,375.6) scale(1.1,1)">0.00</text>
<text transform="translate(80,288.6) scale(1.1,1)">0.05</text>
<text transform="translate(80,201.7) scale(1.1,1)">0.10</text>
<text transform="translate(80,114.7) scale(1.1,1)">0.15</text>
<text transform="translate(80,27.8) scale(1.1,1)">0.20</text>
<text transform="translate(80,820.2) scale(1.1,1)">0.00</text>
<text transform="translate(80,728.9) scale(1.1,1)">0.05</text>
<text transform="translate(80,637.6) scale(1.1,1)">0.10</text>
<text transform="translate(80,546.2) scale(1.1,1)">0.15</text>
<text transform="translate(80,454.9) scale(1.1,1)">0.20</text>
</g>
<g font-size="20.2px" text-anchor="middle">
<text transform="translate(29,203.1) rotate(-90)">Light scattering (V)</text>
<text transform="translate(29,631.7) rotate(-90)">Light scattering (V)</text>
<text x="354.2" y="880">Time (min)</text>
</g>
<g font-size="21.5px" text-anchor="middle">
<text x="562.5" y="70.3">A</text>
<text x="563" y="498.2">B</text>
</g>
</g>
</svg>
</body>
</html>
